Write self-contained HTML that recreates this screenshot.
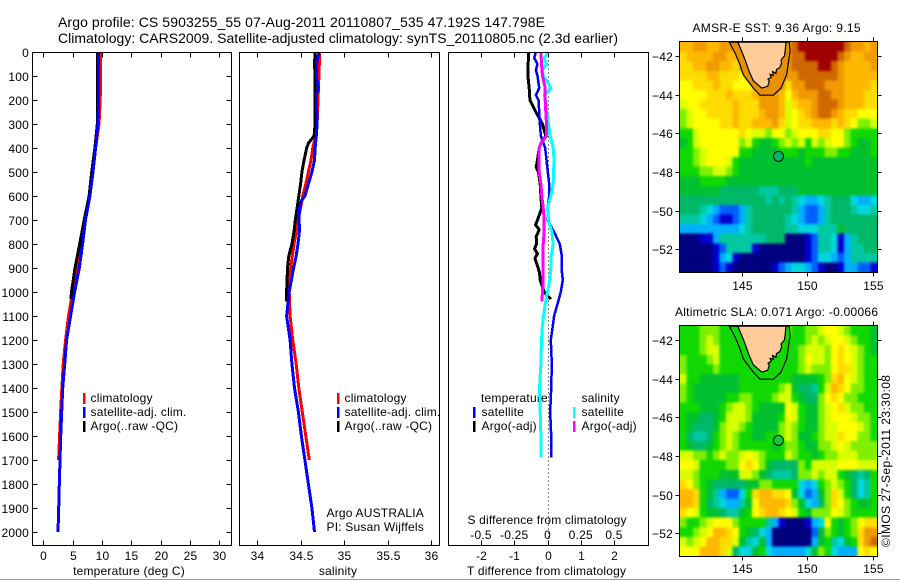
<!DOCTYPE html>
<html><head><meta charset="utf-8"><title>Argo profile</title>
<style>
html,body{margin:0;padding:0;background:#fff;width:900px;height:580px;overflow:hidden}
svg{display:block;font-family:"Liberation Sans",sans-serif;font-size:12px;fill:#000;letter-spacing:.2px}
text{fill:#000}
</style></head>
<body>
<svg id="fig" width="900" height="580" viewBox="0 0 900 580" xmlns="http://www.w3.org/2000/svg">
<defs><filter id="smooth" x="-5%" y="-5%" width="110%" height="110%" color-interpolation-filters="sRGB"><feGaussianBlur stdDeviation="1.4"/></filter></defs>
<rect x="0" y="0" width="900" height="580" fill="#fff"/>
<rect x="0" y="579" width="900" height="1" fill="#999"/>
<text x="58" y="27" font-size="14" textLength="487" style="letter-spacing:0">Argo profile: CS 5903255_55 07-Aug-2011 20110807_535 47.192S 147.798E</text>
<text x="58" y="43" font-size="14" textLength="560" style="letter-spacing:0">Climatology: CARS2009. Satellite-adjusted climatology: synTS_20110805.nc (2.3d earlier)</text>
<text x="129" y="575" text-anchor="middle">temperature (deg C)</text>
<text x="338" y="575" text-anchor="middle">salinity</text>
<text x="467" y="575" textLength="159" style="letter-spacing:0">T difference from climatology</text>
<text x="467.500" y="524" textLength="159" style="letter-spacing:0">S difference from climatology</text>
<text x="326.500" y="517">Argo AUSTRALIA</text>
<text x="326.500" y="531">PI: Susan Wijffels</text>
<text x="692.500" y="32" textLength="168" style="letter-spacing:0">AMSR-E SST: 9.36  Argo: 9.15</text>
<text x="675" y="316" textLength="203" style="letter-spacing:0">Altimetric SLA: 0.071  Argo: -0.00066</text>
<text transform="translate(890,547) rotate(-90)" textLength="172" style="letter-spacing:0">©IMOS 27-Sep-2011 23:30:08</text>

<g>
<rect x="83" y="393" width="2.500" height="11" fill="#f00"/>
<text x="90.500" y="402">climatology</text>
<rect x="83" y="407" width="2.500" height="11" fill="#00f"/>
<text x="90.500" y="416">satellite-adj. clim.</text>
<rect x="83" y="421" width="2.500" height="11" fill="#000"/>
<text x="90.500" y="430">Argo(..raw -QC)</text>
</g>
<g>
<rect x="337" y="393" width="2.500" height="11" fill="#f00"/>
<text x="344.500" y="402">climatology</text>
<rect x="337" y="407" width="2.500" height="11" fill="#00f"/>
<text x="344.500" y="416">satellite-adj. clim.</text>
<rect x="337" y="421" width="2.500" height="11" fill="#000"/>
<text x="344.500" y="430">Argo(..raw -QC)</text>
</g>
<g id="diff-legend">
<text x="481" y="402">temperature</text>
<rect x="473" y="407" width="2.500" height="11" fill="#00f"/>
<text x="481.500" y="416">satellite</text>
<rect x="473" y="421" width="2.500" height="11" fill="#000"/>
<text x="481.500" y="430">Argo(-adj)</text>
<text x="581.500" y="402">salinity</text>
<rect x="573" y="407" width="2.500" height="11" fill="#0ff"/>
<text x="581.500" y="416">satellite</text>
<rect x="573" y="421" width="2.500" height="11" fill="#f0f"/>
<text x="581.500" y="430">Argo(-adj)</text>
</g>
</svg>
<script>
// ---------- profile data ----------
const depthTicks = [0,100,200,300,400,500,600,700,800,900,1000,1100,1200,1300,1400,1500,1600,1700,1800,1900,2000];
const tempTicks = [0,5,10,15,20,25,30];
const salTicks = [34,34.5,35,35.5,36];
const salTickLabels = ['34','34.5','35','35.5','36'];
const tDiffTicks = [-2,-1,0,1,2];
const sDiffTicks = [-0.5,-0.25,0,0.25,0.5];
const sDiffLabels = ['-0.5','-0.25','0','0.25','0.5'];
const mapLonTicks = [145,150,155];
const mapLatTicks = [-42,-44,-46,-48,-50,-52];

const tClimDepth = [0,100,200,300,400,500,600,700,800,900,1000,1100,1200,1300,1400,1500,1600,1700];
const tClim = [9.77,9.77,9.7,9.5,8.92,8.4,7.8,7.15,6.45,5.7,5.0,4.3,3.8,3.4,3.17,2.95,2.78,2.6];
const tSatDepth = [0,100,200,300,400,500,600,700,800,900,1000,1100,1200,1300,1400,1500,1600,1700,1800,1900,2000];
const tSat = [9.43,9.43,9.43,9.3,8.92,8.47,7.95,7.2,6.7,6.13,5.34,4.66,3.98,3.64,3.3,3.13,2.96,2.84,2.73,2.62,2.5];
const tArgoDepth = [0,100,200,300,400,500,600,700,800,900,1000,1030];
const tArgo = [9.27,9.2,9.2,9.2,8.8,8.25,7.8,6.98,6.2,5.4,4.8,4.7];

const sClimDepth = [0,100,200,300,350,400,450,500,550,600,650,700,750,800,850,900,1000,1100,1200,1300,1400,1500,1600,1700];
const sClim = [34.72,34.71,34.7,34.69,34.67,34.64,34.62,34.59,34.56,34.525,34.5,34.47,34.45,34.425,34.405,34.385,34.37,34.38,34.41,34.45,34.48,34.52,34.56,34.6];
const sSatDepth = [0,50,100,150,180,300,350,400,450,500,550,600,620,650,700,735,800,850,900,1000,1100,1200,1300,1400,1500,1600,1700,1800,1900,2000];
const sSat = [34.71,34.68,34.68,34.705,34.68,34.69,34.68,34.667,34.66,34.63,34.59,34.55,34.51,34.49,34.48,34.49,34.47,34.45,34.42,34.37,34.34,34.38,34.4,34.43,34.475,34.51,34.55,34.59,34.63,34.66];
const sArgoDepth = [0,50,100,200,300,350,380,400,450,500,550,600,650,700,750,800,850,900,950,1000,1040];
const sArgo = [34.667,34.66,34.667,34.667,34.667,34.655,34.59,34.57,34.54,34.515,34.5,34.48,34.46,34.44,34.425,34.4,34.365,34.35,34.345,34.34,34.34];

const dTArgoDepth = [0,100,150,200,250,300,350,380,400,450,480,500,550,600,650,700,720,740,770,800,820,840,860,880,900,920,950,1000,1030];
const dTArgo = [-0.57,-0.59,-0.55,-0.53,-0.35,-0.15,-0.05,-0.2,-0.25,-0.3,-0.34,-0.27,-0.22,-0.2,-0.17,-0.3,-0.36,-0.25,-0.34,-0.33,-0.39,-0.3,-0.38,-0.33,-0.28,-0.24,-0.22,-0.1,0.1];
const dTSatDepth = [0,25,50,75,100,150,180,200,250,300,350,400,450,500,550,600,650,700,750,800,850,900,950,1000,1050,1100,1150,1200,1300,1400,1500,1600,1690];
const dTSat = [-0.35,-0.4,-0.3,-0.35,-0.3,-0.25,-0.35,-0.27,-0.25,-0.23,-0.2,-0.07,-0.03,0.01,0.05,0.05,0,0,0.2,0.37,0.43,0.42,0.46,0.4,0.3,0.2,0.15,0.1,0.13,0.11,0.08,0.11,0.11];
const dSSatDepth = [0,25,50,75,100,125,150,160,180,200,250,300,350,400,450,500,550,600,650,700,750,800,850,900,950,1000,1050,1100,1150,1200,1300,1400,1500,1600,1690];
const dSSat = [0.0075,-0.025,-0.0075,-0.0375,-0.0325,0,0.025,0.0125,-0.025,-0.0125,-0.005,0.0075,0.02,0.0425,0.05,0.045,0.0425,0.025,0,0.0075,0.0325,0.0425,0.0275,0.025,0.0175,0,-0.0175,-0.03,-0.04,-0.045,-0.05,-0.06,-0.055,-0.05,-0.0475];
const dSArgoDepth = [0,50,100,150,200,250,300,350,380,400,450,500,550,600,650,700,750,800,900,950,1000,1040];
const dSArgo = [-0.05,-0.045,-0.0375,-0.0175,-0.0175,-0.0125,-0.0075,-0.0075,-0.05,-0.0625,-0.0625,-0.0625,-0.05,-0.0425,-0.0325,-0.025,-0.025,-0.0325,-0.0325,-0.0325,-0.0375,-0.0425];

// ---------- map data: one character per cell, index into the colour scale ----------
const colourScale = ['#00007f','#0000d0','#0060ff','#00b0ff','#00d8e0','#00c8a0','#00b868','#00c030','#10d800','#80f000','#d8ff00','#ffff00','#ffdc00','#ffb800','#f09a00','#d06800','#a00000'];
const scaleKeys = '0123456789abcdefg';
const sstRows = [
'ddeeddeeee'+'eeeeee'+'efgggggggfeede',
'cddddeedde'+'eeeeee'+'effgggggfeddee',
'ccddeeddce'+'eeeeee'+'effffggfedddde',
'ccccddcccb'+'eeeeee'+'eeffffffeddddd',
'bbcccdccbb'+'bceeee'+'ceefffeeeddddc',
'bbbbcccdcc'+'cdeeed'+'bdeeeffeedddcc',
'abbcccccdc'+'cceeed'+'acddefffedddcc',
'9abbccccdc'+'ccdeed'+'abcdeffedccbbb',
'9abbbbccdc'+'cdddec'+'abccdddcdcb99a',
'88abbbbbbc'+'baa9bb'+'9abbbccbb98888',
'78abbbbbb9'+'a87789'+'a9a8a9abb98778',
'889abbbbb8'+'877778'+'88788899887778',
'889abbba87'+'777777'+'77787777777777',
'88899aa987'+'777777'+'77777777777777',
'7778888777'+'777777'+'77777777777777',
'7777776666'+'665556'+'66777777777777',
'6666666666'+'666565'+'65433456664334',
'6665432223'+'566666'+'65322356665445',
'5554321123'+'566666'+'54322356666666',
'3333333334'+'566666'+'55444555766666',
'0001135555'+'555666'+'00012554135666',
'0000012555'+'510000'+'00012554135566',
'0000013410'+'000000'+'00012443235555',
'0000012100'+'000012'+'34432100133221'
];
const slaRows = [
'8889998888'+'888888'+'98899abba98887',
'8889a98888'+'888888'+'8889a9abba9887',
'8889aa8888'+'888888'+'889aaa9bcba987',
'98889a8888'+'888888'+'889baa9bcba988',
'9888898888'+'888888'+'889a999bcca988',
'a887777778'+'888888'+'8777789cdba988',
'9877777778'+'888889'+'a76658adcb9988',
'9877777889'+'98889a'+'a87669bcb99888',
'88877789aa'+'987777'+'ba8779abca9988',
'8776678aaa'+'977778'+'ba8779abbba998',
'8766679aa9'+'877779'+'a98779aabbba98',
'8655689a98'+'877889'+'a97789aacbb998',
'8766789a98'+'888878'+'9987799aba9999',
'aa9989a99a'+'ba9888'+'a9887899aaa999',
'bba888899b'+'cb9766'+'6698aaaabbbaaa',
'aa9888777a'+'a97655'+'5699a9aa876568',
'cb98766666'+'779988'+'8843489a986458',
'ddc8753224'+'8cddcc'+'b742379ca86458',
'ddc8654335'+'7bdddd'+'c974369cb98778',
'cba8776557'+'8bcddc'+'ba87999ba98888',
'9889abbb98'+'888531'+'000134b8789bcc',
'889abddcb8'+'764300'+'00002798789cee',
'a9abddcca7'+'547300'+'00003785478cef',
'bbbdddca64'+'478433'+'33347984333bcb'
];
const coastLon = [144.7,145,145.25,145.56,145.88,146.52,146.98,147.1,147.0,147.25,147.15,147.4,147.35,147.6,147.65,147.9,148.04,148.0,148.25,148.3,148.37];
const coastLat = [-41.28,-41.76,-42.19,-42.79,-43.28,-43.66,-43.57,-43.3,-43.2,-43.1,-42.95,-43.0,-42.8,-42.9,-42.7,-42.6,-42.36,-42.2,-42.0,-41.76,-41.28];
const shelfLon = [144.06,144.49,144.87,145.12,145.88,146.39,147.41,147.99,148.42,148.68,148.62];
const shelfLat = [-41.28,-41.84,-42.45,-42.97,-43.66,-44.03,-44.03,-43.66,-42.97,-41.76,-41.28];
const argoLon = 147.798;
const argoLat = -47.192;

// ---------- helpers ----------
const svg = document.getElementById('fig');
const NS = 'http://www.w3.org/2000/svg';
function mk(tag, parent, attrs){
  const el = document.createElementNS(NS, tag);
  for (const k in attrs) el.setAttribute(k, attrs[k]);
  (parent || svg).appendChild(el);
  return el;
}
function scale(d0,d1,r0,r1){ return v => r0 + (v-d0)*(r1-r0)/(d1-d0); }
const yD = scale(0,2000,52,532);

function line(g,x1,y1,x2,y2){
  const el = mk('line', g, {x1:x1,y1:y1,x2:x2,y2:y2,stroke:'#000','stroke-width':1,'shape-rendering':'crispEdges'});
  
  
}
function label(g,x,y,txt,anchor){
  const el = mk('text', g, {x:x,y:y,'text-anchor':anchor});
  el.textContent = txt;
  
  
}
function box(g,x0,y0,x1,y1){
  const el = mk('rect', g, {x:x0,y:y0,width:x1-x0,height:y1-y0,fill:'none',stroke:'#000','stroke-width':1,'shape-rendering':'crispEdges'});
  
  
}
function series(g,name,xs,ds,xf,color,w){
  const pts = xs.map((v,i)=>xf(v).toFixed(1)+','+yD(ds[i]).toFixed(1)).join(' ');
  const el = mk('polyline', g, {points:pts,fill:'none',stroke:color,'stroke-width':w,'stroke-linejoin':'round','shape-rendering':'crispEdges'});
  
  
}
function panel(name){
  const g = mk('g');
  
  
  return g;
}
const Y0=52.5, Y1=545.5;

// ---------- temperature panel ----------
const p1 = panel('temperature-panel');
const xT = scale(0,30,43.3,219.3);
series(p1,'temperature-climatology-line',tClim,tClimDepth,xT,'#f00',3);
series(p1,'temperature-argo-line',tArgo,tArgoDepth,xT,'#000',3);
series(p1,'temperature-satellite-line',tSat,tSatDepth,xT,'#00f',3);
box(p1,32.5,Y0,231.5,Y1);
depthTicks.forEach(d=>{
  const y=Math.round(yD(d))+.5;
  line(p1,32.5,y,37.5,y); line(p1,226.5,y,231.5,y);
  label(p1,29,y+4.5,String(d),'end');
});
tempTicks.forEach(t=>{
  const x=Math.round(xT(t))+.5;
  line(p1,x,Y0,x,Y0+5); line(p1,x,Y1,x,Y1-5);
  label(p1,x,560,String(t),'middle');
});

// ---------- salinity panel ----------
const p2 = panel('salinity-panel');
const xS = scale(34,36,257,431.3);
series(p2,'salinity-climatology-line',sClim,sClimDepth,xS,'#f00',3);
series(p2,'salinity-argo-line',sArgo,sArgoDepth,xS,'#000',3);
series(p2,'salinity-satellite-line',sSat,sSatDepth,xS,'#00f',3);
box(p2,239.5,Y0,439.5,Y1);
salTicks.forEach((t,i)=>{
  const x=Math.round(xS(t))+.5;
  line(p2,x,Y0,x,Y0+5); line(p2,x,Y1,x,Y1-5);
  label(p2,x,560,salTickLabels[i],'middle');
});

// ---------- difference panel ----------
const p3 = panel('difference-panel');
const xDT = scale(-2,2,481,614);
const xDS = scale(-0.5,0.5,481,614);
const zero = mk('line', p3, {x1:548.5,y1:Y0,x2:548.5,y2:Y1,stroke:'#000','stroke-width':1,'stroke-dasharray':'1 3','shape-rendering':'crispEdges'});


series(p3,'t-difference-argo-line',dTArgo,dTArgoDepth,xDT,'#000',3);
series(p3,'t-difference-satellite-line',dTSat,dTSatDepth,xDT,'#00f',2.5);
series(p3,'s-difference-satellite-line',dSSat,dSSatDepth,xDS,'#0ff',3);
series(p3,'s-difference-argo-line',dSArgo,dSArgoDepth,xDS,'#f0f',3);
box(p3,448.5,Y0,648.5,Y1);
tDiffTicks.forEach(t=>{
  const x=Math.round(xDT(t))+.5;
  line(p3,x,Y0,x,Y0+5); line(p3,x,Y1,x,Y1-5);
  label(p3,x,560,String(t),'middle');
});
sDiffTicks.forEach((t,i)=>{
  label(p3,xDS(t),539,sDiffLabels[i],'middle');
});

// ---------- maps ----------
let clipId = 0;
function drawMap(name,rows,frameTop,frameBottom,lat42y,lonLabelY,spotFill,shelfFill){
  const g = panel(name);
  const xL = scale(145,150,741.7,807.4);
  const yL = scale(-42,-52,lat42y,lat42y+193.3);
  const left=680, right=877, top=frameTop+1, bottom=frameBottom;
  const cw=(right-left)/30, ch=(bottom-top)/24;
  const clip = mk('clipPath', svg, {id:'mapclip'+(++clipId)});
  mk('rect', clip, {x:left,y:top,width:right-left,height:bottom-top});
  const cg = mk('g', g, {'clip-path':'url(#mapclip'+clipId+')'});
  
  
  const cells = mk('g', cg, {filter:'url(#smooth)'});
  
  
  rows.forEach((row,r)=>{
    for(let c=0;c<30;c++){
      const key = row[c];
      const pad = 8;
      const x0 = left + c*cw - (c===0 ? pad : 0);
      const y0 = top + r*ch - (r===0 ? pad : 0);
      const w = cw + .6 + (c===0 || c===29 ? pad : 0);
      const h = ch + .6 + (r===0 || r===23 ? pad : 0);
      const cell = mk('rect', cells, {x:x0.toFixed(2),y:y0.toFixed(2),width:w.toFixed(2),height:h.toFixed(2),fill:colourScale[scaleKeys.indexOf(key)],'shape-rendering':'crispEdges'});
      
      
    }
  });
  const toPts=(lons,lats)=>lons.map((v,i)=>xL(v).toFixed(1)+','+yL(lats[i]).toFixed(1)).join(' ');
  const shelf = mk('polygon', cg, {points:toPts(shelfLon,shelfLat),fill:shelfFill,stroke:'#000','stroke-width':1.2});
  
  
  const land = mk('polygon', cg, {points:toPts(coastLon,coastLat),fill:'#ffcc99',stroke:'#000','stroke-width':1.2});
  
  
  const spot = mk('circle', g, {cx:xL(argoLon),cy:yL(argoLat),r:5,fill:spotFill,stroke:'#000','stroke-width':1});
  
  
  box(g,679.5,frameTop+.5,877.5,frameBottom+.5);
  mapLatTicks.forEach(t=>{
    const y=Math.round(yL(t))+.5;
    line(g,675.5,y,679.5,y); line(g,877.5,y,881.5,y);
    label(g,673,y+4.5,String(t).replace('-','\u2212'),'end');
  });
  mapLonTicks.forEach(t=>{
    const x=Math.round(xL(t))+.5;
    line(g,x,frameTop-3.5,x,frameTop+.5); line(g,x,frameBottom+.5,x,frameBottom+4.5);
    label(g,x,lonLabelY,String(t),'middle');
  });
}
drawMap('sst-map',sstRows,41,272,56,290,'#00b868','#e89000');
drawMap('sla-map',slaRows,325,556,340,573,'#10c830','#10d800');
</script>
</body></html>
